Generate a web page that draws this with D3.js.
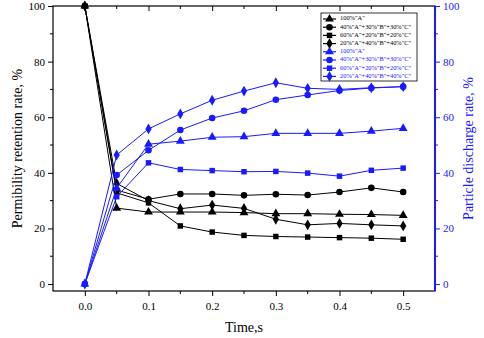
<!DOCTYPE html>
<html>
<head>
<meta charset="utf-8">
<script src="https://cdn.jsdelivr.net/npm/d3@7"></script>
<style>
  body { margin: 0; background: #fff; }
  svg text { font-family: "Times New Roman", "Liberation Serif", Tinos, serif; }
</style>
</head>
<body>
<div id="chart"></div>
<script>
// time points (s)
const times = [0, 0.05, 0.1, 0.15, 0.2, 0.25, 0.3, 0.35, 0.4, 0.45, 0.5];

// permeability retention rate, % (left axis, black)
const retA100 = [100, 27.3, 25.9, 25.9, 25.9, 25.7, 25.3, 25.3, 25.1, 25.0, 24.7];
const retA40 = [100, 33.8, 30.5, 32.4, 32.4, 31.9, 32.3, 32.0, 33.1, 34.6, 33.1];
const retA60 = [100, 32.8, 29.2, 20.9, 18.7, 17.5, 17.1, 16.9, 16.7, 16.5, 16.1];
const retA20 = [100, 36.2, 30.0, 27.1, 28.4, 27.2, 23.3, 21.3, 21.8, 21.3, 20.9];

// particle discharge rate, % (right axis, blue)
const disA100 = [0, 34.5, 50.3, 51.4, 52.8, 53.0, 54.2, 54.2, 54.2, 55.0, 56.0];
const disA40 = [0, 39.2, 48.1, 55.4, 59.7, 62.3, 66.3, 68.0, 69.6, 70.5, 71.0];
const disA60 = [0, 31.4, 43.6, 41.2, 40.8, 40.4, 40.5, 39.9, 38.8, 40.9, 41.7];
const disA20 = [0, 46.4, 55.8, 61.2, 66.1, 69.4, 72.4, 70.4, 70.0, 70.6, 71.0];

const labels = ['100%"A"', '40%"A"+30%"B"+30%"C"', '60%"A"+20%"B"+20%"C"', '20%"A"+40%"B"+40%"C"'];
const shapes = [d3.symbolTriangle, d3.symbolCircle, d3.symbolSquare, d3.symbolDiamond];
const shapeSizes = [34, 34, 30, 34];

const xTicks = [0, 0.1, 0.2, 0.3, 0.4, 0.5];
const yTicks = [0, 20, 40, 60, 80, 100];

const width = 484, height = 338;
const margin = { top: 6, right: 49, bottom: 47, left: 53 };
const blue = '#1a1aff';
const serif = '"Times New Roman", "Liberation Serif", Tinos, serif';

const svg = d3.select('#chart').append('svg')
    .attr('width', width)
    .attr('height', height);

const x = d3.scaleLinear().domain([-0.05, 0.55]).range([margin.left, width - margin.right]);
const yL = d3.scaleLinear().domain([-2.5, 100]).range([height - margin.bottom, margin.top]);
const yR = yL.copy();

const plotBottom = height - margin.bottom;
const plotRight = width - margin.right;

// frame
svg.append('rect')
    .attr('x', margin.left).attr('y', margin.top)
    .attr('width', plotRight - margin.left)
    .attr('height', plotBottom - margin.top)
    .attr('fill', 'none').attr('stroke', '#000').attr('stroke-width', 1.2);

// bottom axis
const minorX = [0.05, 0.15, 0.25, 0.35, 0.45];
const bottomAxis = svg.append('g').attr('transform', `translate(0,${plotBottom})`);
bottomAxis.call(d3.axisBottom(x).tickValues(xTicks).tickFormat(d3.format('.1f')).tickSize(5).tickPadding(6))
    .call(g => g.select('.domain').remove())
    .attr('font-family', serif);
bottomAxis.selectAll('text').attr('font-size', 11).attr('fill', '#000');
bottomAxis.selectAll('.minor').data(minorX).join('line')
    .attr('x1', d => x(d)).attr('x2', d => x(d)).attr('y1', 0).attr('y2', 3)
    .attr('stroke', '#000');

// top axis ticks (inward)
const topAxis = svg.append('g').attr('transform', `translate(0,${margin.top})`);
topAxis.call(d3.axisBottom(x).tickValues(xTicks).tickFormat('').tickSize(5))
    .call(g => g.select('.domain').remove());
topAxis.selectAll('.minor').data(minorX).join('line')
    .attr('x1', d => x(d)).attr('x2', d => x(d)).attr('y1', 0).attr('y2', 3)
    .attr('stroke', '#000');

// left axis
const minorY = [10, 30, 50, 70, 90];
const leftAxis = svg.append('g').attr('transform', `translate(${margin.left},0)`);
leftAxis.call(d3.axisLeft(yL).tickValues(yTicks).tickSize(5).tickPadding(3))
    .call(g => g.select('.domain').remove())
    .attr('font-family', serif);
leftAxis.selectAll('text').attr('font-size', 11).attr('fill', '#000');
leftAxis.selectAll('.minor').data(minorY).join('line')
    .attr('x1', -3).attr('x2', 0).attr('y1', d => yL(d)).attr('y2', d => yL(d))
    .attr('stroke', '#000');

// right axis (blue)
const rightAxis = svg.append('g').attr('transform', `translate(${plotRight},0)`);
rightAxis.call(d3.axisRight(yR).tickValues(yTicks).tickSize(5).tickPadding(3))
    .call(g => g.select('.domain').remove())
    .attr('font-family', serif);
rightAxis.selectAll('line').attr('stroke', blue);
rightAxis.selectAll('text').attr('font-size', 11).attr('fill', blue);
rightAxis.selectAll('.minor').data(minorY).join('line')
    .attr('x1', 0).attr('x2', 3).attr('y1', d => yR(d)).attr('y2', d => yR(d))
    .attr('stroke', blue);
rightAxis.append('line')
    .attr('x1', 0).attr('x2', 0).attr('y1', margin.top).attr('y2', plotBottom)
    .attr('stroke', blue).attr('stroke-width', 2);

// axis titles
svg.append('text')
    .attr('transform', `translate(19,${(margin.top + plotBottom) / 2}) rotate(-90)`)
    .attr('text-anchor', 'middle').attr('dominant-baseline', 'middle')
    .attr('font-size', 14).attr('fill', '#000')
    .text('Permibility retention rate, %');
svg.append('text')
    .attr('transform', `translate(470,${(margin.top + plotBottom) / 2}) rotate(-90)`)
    .attr('text-anchor', 'middle').attr('dominant-baseline', 'middle')
    .attr('font-size', 14).attr('fill', blue)
    .text('Particle discharge rate, %');
svg.append('text')
    .attr('x', x(0.25)).attr('y', 332)
    .attr('text-anchor', 'middle')
    .attr('font-size', 14).attr('fill', '#000')
    .text('Time,s');

// series
const series = [
    { vals: retA100, y: yL, color: '#000', shape: 0 },
    { vals: retA40, y: yL, color: '#000', shape: 1 },
    { vals: retA60, y: yL, color: '#000', shape: 2 },
    { vals: retA20, y: yL, color: '#000', shape: 3 },
    { vals: disA100, y: yR, color: blue, shape: 0 },
    { vals: disA40, y: yR, color: blue, shape: 1 },
    { vals: disA60, y: yR, color: blue, shape: 2 },
    { vals: disA20, y: yR, color: blue, shape: 3 }
];

const plot = svg.append('g');
series.forEach(s => {
    const pts = times.map((t, i) => [t, s.vals[i]]);
    const line = d3.line().x(d => x(d[0])).y(d => s.y(d[1]));
    plot.append('path')
        .attr('d', line(pts))
        .attr('fill', 'none')
        .attr('stroke', s.color)
        .attr('stroke-width', 1);
    plot.append('g').selectAll('path')
        .data(pts)
        .join('path')
        .attr('transform', d => `translate(${x(d[0])},${s.y(d[1])})`)
        .attr('d', d3.symbol(shapes[s.shape], shapeSizes[s.shape]))
        .attr('fill', s.color);
});

// legend
const legend = svg.append('g').attr('transform', 'translate(321,13)');
legend.append('rect')
    .attr('width', 96).attr('height', 68)
    .attr('fill', '#fff').attr('stroke', '#000').attr('stroke-width', 0.8);
series.forEach((s, i) => {
    const row = legend.append('g').attr('transform', `translate(0,${6 + i * 8.2})`);
    row.append('line')
        .attr('x1', 2).attr('x2', 15).attr('y1', 0).attr('y2', 0)
        .attr('stroke', s.color).attr('stroke-width', 1.2);
    row.append('path')
        .attr('transform', 'translate(8.5,0)')
        .attr('d', d3.symbol(shapes[s.shape], shapeSizes[s.shape]))
        .attr('fill', s.color);
    row.append('text')
        .attr('x', 19).attr('y', 0)
        .attr('dominant-baseline', 'middle')
        .attr('font-size', 6.4).attr('fill', s.color)
        .text(labels[s.shape]);
});
</script>
</body>
</html>
